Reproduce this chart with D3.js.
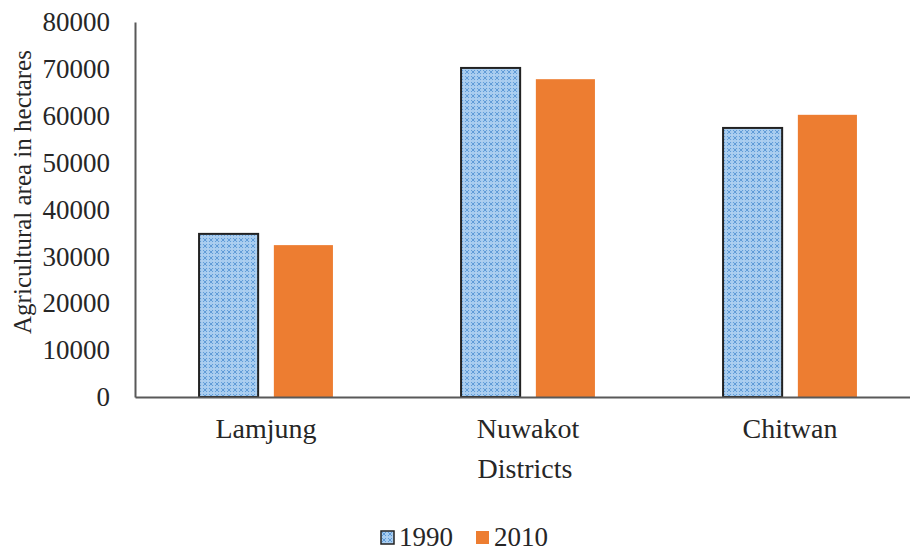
<!DOCTYPE html>
<html>
<head>
<meta charset="utf-8">
<script src="https://cdn.jsdelivr.net/npm/d3@7"></script>
<style>
  body { margin: 0; background: #fff; }
</style>
</head>
<body>
<svg width="910" height="551"></svg>
<script>
// data
const districts = ["Lamjung", "Nuwakot", "Chitwan"];
const years = ["1990", "2010"];
const area1990 = [34800, 70200, 57400];
const area2010 = [32400, 67800, 60200];
const yTicks = [0, 10000, 20000, 30000, 40000, 50000, 60000, 70000, 80000];

const rows = districts.map((d, i) => ({ district: d, values: [area1990[i], area2010[i]] }));
const fontName = "'Liberation Serif'";

let svg = d3.select("svg");

// pattern for 1990 bars
let defs = svg.append("defs");
let pat = defs.append("pattern")
  .attr("id", "dots")
  .attr("width", 6).attr("height", 6)
  .attr("patternUnits", "userSpaceOnUse");
pat.append("rect").attr("width", 6).attr("height", 6).attr("fill", "#a8cdf0");
pat.append("path")
  .attr("d", "M0,0L3,3L6,0M0,6L3,3L6,6")
  .attr("stroke", "#5f9ad6").attr("stroke-width", 1).attr("fill", "none");
pat.append("circle").attr("cx", 3).attr("cy", 3).attr("r", 0.9).attr("fill", "#d6e8fa");

const x0 = d3.scaleBand().domain(districts).range([135, 921])
  .paddingInner(0.489).paddingOuter(0.2445);
const x1 = d3.scaleBand().domain(years).range([0, x0.bandwidth()]).paddingInner(0.21);
const y = d3.scaleLinear().domain([0, 80000]).range([397, 22]);

// bars
let groups = svg.append("g").selectAll("g").data(rows).enter().append("g")
  .attr("transform", d => "translate(" + x0(d.district) + ",0)");
groups.selectAll("rect")
  .data(d => d.values.map((v, i) => ({ year: years[i], value: v })))
  .enter().append("rect")
  .attr("x", d => x1(d.year))
  .attr("y", d => y(d.value))
  .attr("width", x1.bandwidth())
  .attr("height", d => y(0) - y(d.value))
  .attr("fill", d => d.year === "1990" ? "url(#dots)" : "#ed7d31")
  .attr("stroke", d => d.year === "1990" ? "#222" : "none")
  .attr("stroke-width", 2);

// y axis
let yAxis = svg.append("g").attr("transform", "translate(135,0)")
  .call(d3.axisLeft(y).tickValues(yTicks).tickSize(0).tickPadding(25).tickFormat(d3.format("d")));
yAxis.attr("font-family", null).attr("font-size", null);
yAxis.select(".domain").attr("stroke", "#595959").attr("stroke-width", 2);
yAxis.selectAll("text").attr("fill", "#262626")
  .style("font-family", fontName).style("font-size", "27px");

// x axis
let xAxis = svg.append("g").attr("transform", "translate(0,397)")
  .call(d3.axisBottom(x0).tickSize(0).tickPadding(21));
xAxis.attr("font-family", null).attr("font-size", null);
xAxis.select(".domain").attr("stroke", "#595959").attr("stroke-width", 2);
xAxis.selectAll("text").attr("fill", "#262626")
  .style("font-family", fontName).style("font-size", "28px");

// titles
svg.append("text")
  .attr("transform", "translate(31,192) rotate(-90)")
  .attr("text-anchor", "middle")
  .style("font-family", fontName).style("font-size", "25px")
  .attr("fill", "#262626")
  .text("Agricultural area in hectares");
svg.append("text")
  .attr("x", 525).attr("y", 478)
  .attr("text-anchor", "middle")
  .style("font-family", fontName).style("font-size", "28px")
  .attr("fill", "#262626")
  .text("Districts");

// legend
let legend = svg.append("g");
let legX = [381, 476];
years.forEach((yr, i) => {
  legend.append("rect")
    .attr("x", legX[i]).attr("y", 531).attr("width", 13).attr("height", 13)
    .attr("fill", i === 0 ? "url(#dots)" : "#ed7d31")
    .attr("stroke", i === 0 ? "#222" : "none").attr("stroke-width", 1.5);
  legend.append("text")
    .attr("x", legX[i] + 18).attr("y", 546)
    .style("font-family", fontName).style("font-size", "27px")
    .attr("fill", "#262626")
    .text(yr);
});
</script>
</body>
</html>
